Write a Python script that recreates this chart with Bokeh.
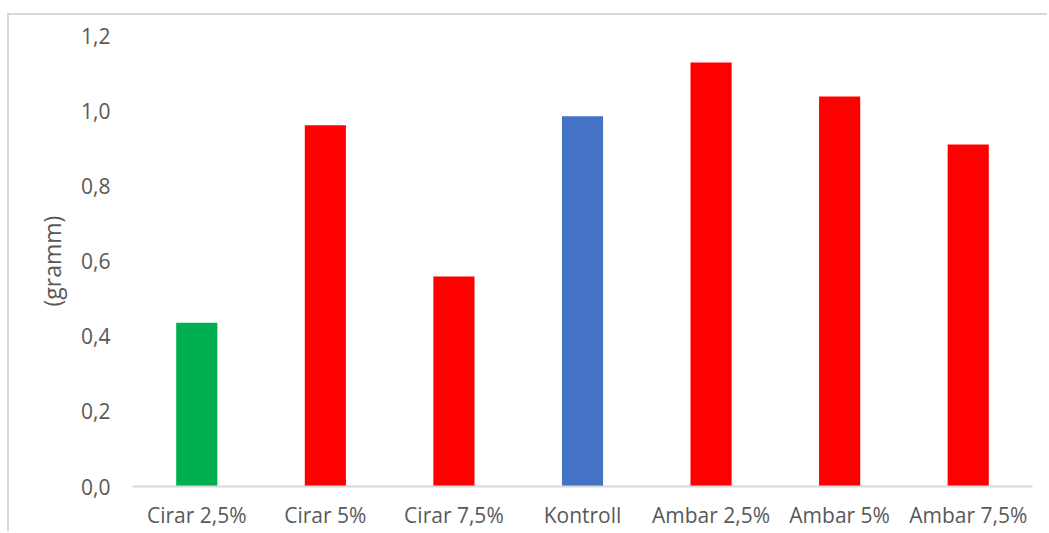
from bokeh.plotting import figure
from bokeh.models import ColumnDataSource, CustomJSTickFormatter, FixedTicker
from bokeh.embed import file_html
from bokeh.resources import INLINE

categories = ["Cirar 2,5%", "Cirar 5%", "Cirar 7,5%", "Kontroll", "Ambar 2,5%", "Ambar 5%", "Ambar 7,5%"]
values = [0.436, 0.961, 0.559, 0.985, 1.128, 1.038, 0.910]
colors = ["#00B050", "#FF0000", "#FF0000", "#4472C4", "#FF0000", "#FF0000", "#FF0000"]
y_ticks = [0.0, 0.2, 0.4, 0.6, 0.8, 1.0, 1.2]

FONT = "Open Sans"
TXT = "#595959"

src = ColumnDataSource(dict(cat=categories, val=values, color=colors))

p = figure(x_range=categories, y_range=(0, 1.2), width=1040, height=518,
           output_backend="svg", toolbar_location=None,
           min_border_left=123, min_border_right=17, min_border_top=20, min_border_bottom=47)
p.margin = (13, 0, 0, 7)
p.styles = {"border-left": "2px solid #D9D9D9", "border-top": "2px solid #D9D9D9"}
p.x_range.range_padding = 0
p.vbar(x="cat", top="val", width=0.32, color="color", source=src, line_color=None)

p.outline_line_color = None
p.xgrid.grid_line_color = None
p.ygrid.grid_line_color = None

p.yaxis.ticker = FixedTicker(ticks=y_ticks)
p.yaxis.formatter = CustomJSTickFormatter(code="return tick.toFixed(1).replace('.', ',');")
p.yaxis.axis_line_color = None
p.yaxis.major_tick_line_color = None
p.yaxis.minor_tick_line_color = None
p.yaxis.major_tick_out = 0
p.yaxis.major_label_standoff = 22
p.yaxis.axis_label = "(gramm)"
p.yaxis.axis_label_text_font_style = "normal"
p.yaxis.axis_label_text_font = FONT
p.yaxis.axis_label_text_font_size = "23px"
p.yaxis.axis_label_text_color = TXT
p.yaxis.axis_label_standoff = 10

p.xaxis.axis_line_color = "#D9D9D9"
p.xaxis.axis_line_width = 2
p.xaxis.major_tick_line_color = None
p.xaxis.minor_tick_line_color = None
p.xaxis.major_tick_out = 0
p.xaxis.major_label_standoff = 14

for ax in (p.xaxis, p.yaxis):
    ax.major_label_text_font = FONT
    ax.major_label_text_font_size = "21px"
    ax.major_label_text_color = TXT

open("out.html", "w").write(file_html(p, INLINE))
